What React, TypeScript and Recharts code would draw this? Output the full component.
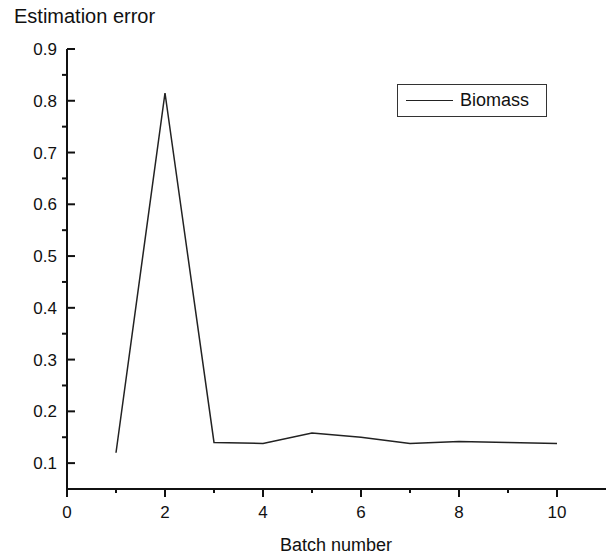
import React from "react";
import { LineChart, Line, XAxis, YAxis, Legend } from "recharts";

const batches = [1, 2, 3, 4, 5, 6, 7, 8, 9, 10];
const biomassError = [0.12, 0.815, 0.14, 0.138, 0.158, 0.15, 0.138, 0.142, 0.14, 0.138];
const xTicks = [0, 1, 2, 3, 4, 5, 6, 7, 8, 9, 10];
const yTicks = [0.1, 0.15, 0.2, 0.25, 0.3, 0.35, 0.4, 0.45, 0.5, 0.55, 0.6, 0.65, 0.7, 0.75, 0.8, 0.85, 0.9];
const yLabels = ["0.1", "0.2", "0.3", "0.4", "0.5", "0.6", "0.7", "0.8", "0.9"];

const data = batches.map((b, i) => ({ batch: b, biomass: biomassError[i] }));

const FONT = "'Liberation Sans', Arial, sans-serif";

const XTick = (props: any) => {
  const { x, y, payload } = props;
  const major = payload.value % 2 === 0;
  return (
    <g>
      <line x1={x} y1={y} x2={x} y2={y + (major ? 8 : 4)} stroke="#111" strokeWidth={2} />
      {major && (
        <text x={x} y={y + 29} textAnchor="middle" fontSize={17} fill="#111" fontFamily={FONT}>
          {payload.value}
        </text>
      )}
    </g>
  );
};

const YTick = (props: any) => {
  const { x, y, payload } = props;
  const label = yLabels.find((l) => Math.abs(Number(l) - payload.value) < 1e-6);
  return (
    <g>
      {label ? (
        <line x1={x} y1={y} x2={x + 8} y2={y} stroke="#111" strokeWidth={2} />
      ) : (
        <line x1={x - 5} y1={y} x2={x} y2={y} stroke="#111" strokeWidth={2} />
      )}
      {label && (
        <text x={x - 10} y={y + 6} textAnchor="end" fontSize={17} fill="#111" fontFamily={FONT}>
          {label}
        </text>
      )}
    </g>
  );
};

const LegendBox = () => (
  <div
    style={{
      width: 150,
      height: 33,
      boxSizing: "border-box",
      border: "1.5px solid #333",
      display: "flex",
      alignItems: "center",
      fontFamily: FONT,
      fontSize: 18,
      color: "#111",
    }}
  >
    <div style={{ width: 47, height: 0, borderTop: "1.5px solid #222", marginLeft: 8, marginRight: 7 }} />
    <span>Biomass</span>
  </div>
);

export default function App() {
  return (
    <div style={{ position: "absolute", left: 0, top: 0, width: 613, height: 558, background: "#fff" }}>
      <LineChart width={613} height={558} data={data} margin={{ top: 49, right: 7, bottom: 0, left: 0 }}>
        <XAxis
          type="number"
          dataKey="batch"
          domain={[0, 11]}
          ticks={xTicks}
          interval={0}
          height={69}
          tickSize={0}
          tickMargin={0}
          tickLine={false}
          tick={<XTick />}
          axisLine={{ stroke: "#111", strokeWidth: 2 }}
          label={(p: any) => (
            <text x={336} y={551} textAnchor="middle" fontSize={18} fill="#111" fontFamily={FONT}>
              Batch number
            </text>
          )}
        />
        <YAxis
          type="number"
          domain={[0.05, 0.9]}
          ticks={yTicks}
          interval={0}
          width={67}
          tickSize={0}
          tickMargin={0}
          tickLine={false}
          tick={<YTick />}
          axisLine={{ stroke: "#111", strokeWidth: 2 }}
          allowDataOverflow
          label={(p: any) => (
            <text x={14} y={23} fontSize={20} fill="#111" fontFamily={FONT}>
              Estimation error
            </text>
          )}
        />
        <Legend
          verticalAlign="middle"
          align="center"
          layout="horizontal"
          content={<LegendBox />}
          wrapperStyle={{ position: "absolute", left: 397, top: 84, width: 150 }}
        />
        <Line
          type="linear"
          dataKey="biomass"
          stroke="#222"
          strokeWidth={1.5}
          dot={false}
          isAnimationActive={false}
        />
      </LineChart>
    </div>
  );
}
